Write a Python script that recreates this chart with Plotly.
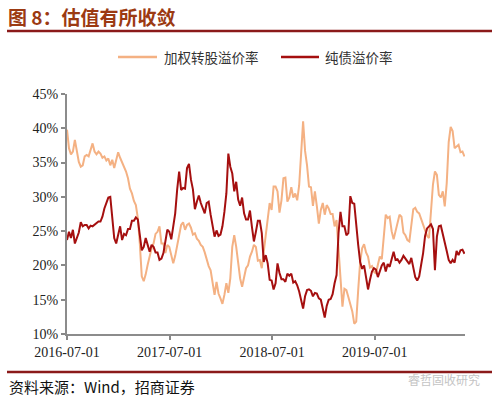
import plotly.graph_objects as go
import pandas as pd

# weekly observations starting 2016-07-01
start_date = "2016-07-01"
n_weeks = 203
dates = pd.date_range(start_date, periods=n_weeks, freq="7D")

conv_premium = [
    39.8, 37.1, 36.2, 36.6, 38.3, 36.6, 35.1, 34.4, 34.6, 35.9,
    36.1, 35.9, 36.8, 37.8, 36.6, 36.2, 36.6, 36.3, 35.7, 35.9,
    35.3, 35.6, 34.6, 35.4, 34.2, 35.6, 36.5, 35.7, 35.1, 34.5,
    33.7, 32.7, 31.2, 30.5, 29.4, 28.8, 26.9, 23.2, 18.4, 17.7,
    18.7, 20.1, 21.4, 22.5, 23.2, 24.6, 24.9, 25.7, 23.2, 23.2,
    21.8, 23.0, 22.7, 21.4, 20.3, 21.4, 22.7, 24.4, 25.9, 26.3,
    25.2, 25.9, 26.1, 25.5, 24.5, 24.7, 23.9, 23.6, 23.0, 22.7,
    21.9, 20.7, 19.9, 19.3, 17.1, 15.7, 17.6, 15.9, 15.2, 14.4,
    15.7, 17.4, 16.0, 18.1, 22.7, 24.4, 22.7, 20.4, 18.1, 16.9,
    18.1, 19.6, 20.0, 21.3, 22.0, 23.0, 22.7, 20.7, 20.8, 19.6,
    22.0, 24.2, 26.9, 29.1, 28.1, 31.5, 31.5, 30.8, 27.7, 29.5,
    32.7, 32.8, 29.3, 29.9, 31.4, 29.9, 30.5, 29.5, 31.7, 36.1,
    41.0, 36.7, 34.6, 31.5, 31.4, 28.7, 30.8, 28.6, 26.1, 28.1,
    29.1, 27.4, 28.8, 28.3, 27.5, 27.5, 25.7, 26.6, 22.7, 17.4,
    14.0, 16.6, 16.4, 15.4, 14.2, 13.3, 11.5, 11.8, 16.4, 20.5,
    22.5, 23.1, 21.9, 21.3, 19.7, 19.9, 19.1, 18.8, 20.1, 21.3,
    20.9, 23.7, 27.4, 26.9, 27.1, 25.0, 23.8, 25.0, 26.1, 27.4,
    27.1, 24.8, 24.4, 23.7, 23.5, 25.9, 28.2, 28.4, 27.8, 27.6,
    26.8, 25.7, 25.1, 24.3, 24.0, 28.2, 31.8, 33.7, 33.2, 30.3,
    29.9, 30.8, 28.6, 32.0, 38.0, 40.2, 39.6, 37.1, 37.3, 37.6,
    36.5, 36.6, 35.9,
]

bond_premium = [
    23.7, 24.9, 24.0, 25.2, 23.2, 24.1, 24.8, 26.3, 25.7, 25.9,
    25.9, 25.4, 25.8, 25.7, 25.9, 26.1, 26.4, 26.4, 27.1, 28.3,
    29.2, 29.9, 30.0, 26.5, 24.0, 23.2, 24.7, 25.7, 23.7, 24.6,
    24.4, 25.3, 25.3, 26.5, 26.5, 27.0, 26.7, 24.7, 22.2, 22.7,
    24.0, 23.0, 22.0, 23.0, 22.7, 21.9, 21.9, 20.8, 21.0, 21.8,
    23.7, 25.2, 24.9, 23.8, 25.7, 27.6, 31.1, 33.7, 31.0, 31.3,
    31.2, 34.2, 34.8, 32.5, 31.1, 28.2, 29.3, 30.2, 29.1, 28.2,
    27.6, 29.1, 29.3, 27.4, 25.9, 24.2, 25.1, 24.3, 24.5, 25.7,
    27.8, 30.5, 36.3, 34.4, 33.4, 30.8, 32.2, 29.6, 28.7, 29.9,
    27.6, 26.7, 26.7, 28.0, 25.6, 23.5, 24.9, 26.5, 26.5, 24.7,
    20.5, 21.5, 20.3, 17.9, 17.8, 16.5, 17.4, 20.3, 18.9, 18.0,
    18.0, 17.6, 18.8, 18.5, 18.8, 17.5, 17.7, 17.1, 16.2, 15.0,
    13.7, 15.5, 16.4, 16.5, 16.3, 15.5, 16.0, 15.9, 15.2, 15.0,
    13.5, 12.4, 14.1, 15.0, 15.1, 15.8, 17.4, 18.6, 24.7, 27.8,
    25.7, 25.7, 24.4, 24.7, 30.1, 29.1, 29.0, 25.7, 23.0, 20.5,
    19.5, 20.0, 18.5, 16.5, 17.9, 19.1, 19.6, 19.4, 18.3, 19.3,
    20.0, 20.4, 19.1, 20.2, 19.8, 20.9, 22.0, 20.8, 20.9, 20.4,
    20.8, 21.4, 21.0, 20.5, 20.2, 21.1, 19.7, 18.3, 17.8, 18.4,
    20.1, 21.8, 24.3, 25.4, 25.7, 26.0, 25.3, 19.3, 24.2, 25.7,
    25.8, 24.4, 23.2, 22.1, 20.8, 20.3, 20.8, 20.4, 22.1, 21.5,
    22.2, 22.3, 21.7,
]

series_names = ["加权转股溢价率", "纯债溢价率"]
series_colors = ["#F4B183", "#A50F0F"]

y_ticks = [10, 15, 20, 25, 30, 35, 40, 45]
x_tick_labels = ["2016-07-01", "2017-07-01", "2018-07-01", "2019-07-01"]

title_text = "图 8：估值有所收敛"
source_text = "资料来源：Wind，招商证券"
watermark_text = "睿哲固收研究"

SERIF = '"Liberation Serif", "Times New Roman", "Noto Sans CJK SC", serif'
CJK = '"Noto Sans CJK SC", "Liberation Serif", serif'

# plot area in figure pixels
L, R, T, B = 67, 465, 94, 334
W, H = 499, 399


def px(x):
    return (x - L) / (R - L)


def py(y):
    return (B - y) / (B - T)


fig = go.Figure()
for name, vals, col in zip(series_names, [conv_premium, bond_premium], series_colors):
    fig.add_trace(go.Scatter(
        x=dates, y=vals, mode="lines", name=name,
        line=dict(color=col, width=2), showlegend=False,
    ))

fig.update_layout(
    width=W, height=H,
    margin=dict(l=L, r=W - R, t=T, b=H - B, pad=0),
    paper_bgcolor="white", plot_bgcolor="white",
    font=dict(family=SERIF, size=14, color="#222"),
)

fig.update_xaxes(
    type="date",
    range=["2016-07-01", "2020-05-17"],
    tickmode="array",
    tickvals=x_tick_labels, ticktext=x_tick_labels,
    ticks="outside", ticklen=4, tickcolor="#888", tickwidth=1.5,
    showline=True, linecolor="#8c8c8c", linewidth=2,
    showgrid=False, zeroline=False,
    tickfont=dict(family=SERIF, size=14, color="#222"),
)
fig.update_yaxes(
    range=[10, 45],
    tickmode="array", tickvals=y_ticks,
    ticktext=[f"{v}%" for v in y_ticks],
    ticks="outside", ticklen=4, tickcolor="#888", tickwidth=1.5,
    showline=True, linecolor="#8c8c8c", linewidth=2,
    showgrid=False, zeroline=False,
    tickfont=dict(family=SERIF, size=14, color="#222"),
)

# header / footer rules
for yy in (31, 372):
    fig.add_shape(type="line", xref="paper", yref="paper",
                  x0=px(7), x1=px(492), y0=py(yy), y1=py(yy),
                  line=dict(color="#8B1A1A", width=2.5))

# legend (manual, positioned like the reference)
legend_items = [(118, 157, 162), (281, 319, 323)]
for (lx0, lx1, tx), name, col in zip(legend_items, series_names, series_colors):
    fig.add_shape(type="line", xref="paper", yref="paper",
                  x0=px(lx0), x1=px(lx1), y0=py(57), y1=py(57),
                  line=dict(color=col, width=2.5))
    fig.add_annotation(text=name, xref="paper", yref="paper",
                       x=px(tx), y=py(57), xanchor="left", yanchor="middle",
                       showarrow=False, font=dict(family=CJK, size=13.5, color="#333"))

fig.add_annotation(text=f"<b>{title_text}</b>", xref="paper", yref="paper",
                   x=px(6), y=py(16), xanchor="left", yanchor="middle",
                   showarrow=False, font=dict(family=CJK, size=19, color="#9C3A12"))
fig.add_annotation(text=source_text, xref="paper", yref="paper",
                   x=px(7), y=py(386), xanchor="left", yanchor="middle",
                   showarrow=False, font=dict(family=CJK, size=15, color="#111"))
fig.add_annotation(text=watermark_text, xref="paper", yref="paper",
                   x=px(482), y=py(379), xanchor="right", yanchor="middle",
                   showarrow=False, font=dict(family=CJK, size=12, color="#c4c4c4"))

fig.write_html(
    "out.html",
    config={"displayModeBar": False},
    post_script="document.body.style.margin='0';document.body.style.padding='0';",
)
